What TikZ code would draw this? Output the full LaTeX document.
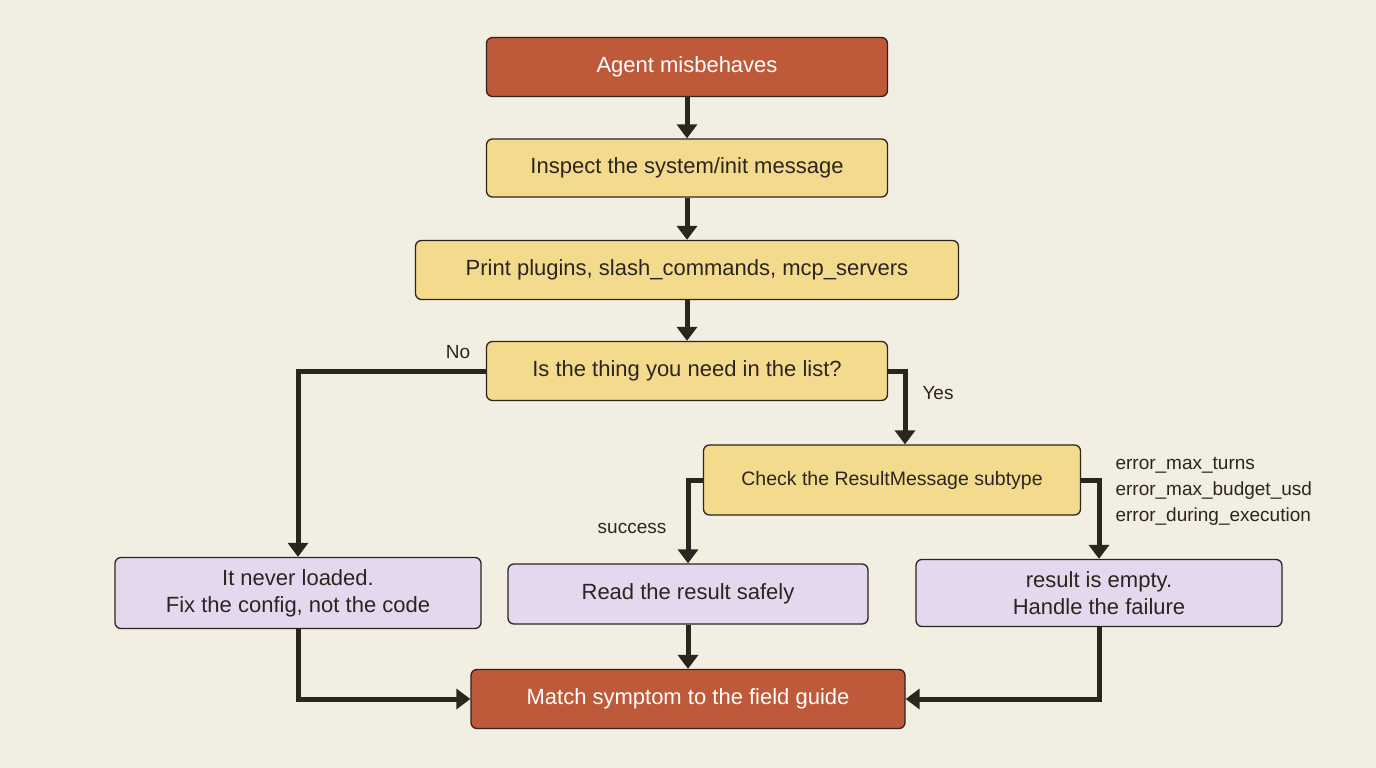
\documentclass[tikz,border=0pt]{standalone}
\usepackage{fontspec}
\setmainfont{Liberation Sans}
\usetikzlibrary{arrows.meta}
\definecolor{bg}{HTML}{F3EEE2}
\definecolor{redf}{HTML}{BE5A3A}
\definecolor{yel}{HTML}{F4DA8C}
\definecolor{pur}{HTML}{E3D8EE}
\definecolor{ink}{HTML}{2B251F}
\begin{document}
\begin{tikzpicture}[x=1pt,y=-1pt,
 box/.style={draw=ink,line width=1.3pt,rounded corners=6pt,align=center,inner sep=0pt,font=\fontsize{22}{27}\selectfont,text=ink},
 red/.style={box,fill=redf,text=white},
 yb/.style={box,fill=yel},
 pb/.style={box,fill=pur},
 ar/.style={draw=ink,line width=5pt,-{Triangle[length=14pt,width=20pt]}},
 lb/.style={font=\fontsize{19}{23}\selectfont,text=ink}]
\fill[bg] (0,0) rectangle (1376,768);
\useasboundingbox (0,0) rectangle (1376,768);
\node[red,minimum width=401pt,minimum height=59pt] (a) at (687,67) {Agent misbehaves};
\node[yb,minimum width=401pt,minimum height=58pt] (b) at (687,168) {Inspect the system/init message};
\node[yb,minimum width=543pt,minimum height=59pt] (c) at (687,270) {Print plugins, slash\_commands, mcp\_servers};
\node[yb,minimum width=401pt,minimum height=59pt] (d) at (687,371) {Is the thing you need in the list?};
\node[yb,minimum width=377pt,minimum height=70pt,font=\fontsize{19.5}{24}\selectfont] (e) at (892,480) {Check the ResultMessage subtype};
\node[pb,minimum width=366pt,minimum height=71pt] (f) at (298,593) {It never loaded.\\Fix the config, not the code};
\node[pb,minimum width=360pt,minimum height=60pt] (g) at (688,594) {Read the result safely};
\node[pb,minimum width=366pt,minimum height=67pt] (h) at (1099,593) {result is empty.\\Handle the failure};
\node[red,minimum width=434pt,minimum height=59pt] (m) at (688,699) {Match symptom to the field guide};
\draw[ar] (a) -- (b);
\draw[ar] (b) -- (c);
\draw[ar] (c) -- (d);
\draw[ar] (d.west) -| (f.north);
\draw[ar] (d.east) -| (e.north -| 905,0);
\draw[ar] (e.west) -| (g.north);
\draw[ar] (e.east) -| (h.north);
\draw[ar] (g) -- (m);
\draw[ar] (f.south) |- (m.west);
\draw[ar] (h.south) |- (m.east);
\node[lb] (no) at (458,352) {No};
\node[lb] (yes) at (938,393) {Yes};
\node[lb] (su) at (632,528) {success};
\node[lb,anchor=west,align=left,font=\fontsize{19}{26}\selectfont] (er) at (1112,491) {error\_max\_turns\\error\_max\_budget\_usd\\error\_during\_execution};
\end{tikzpicture}
\end{document}
